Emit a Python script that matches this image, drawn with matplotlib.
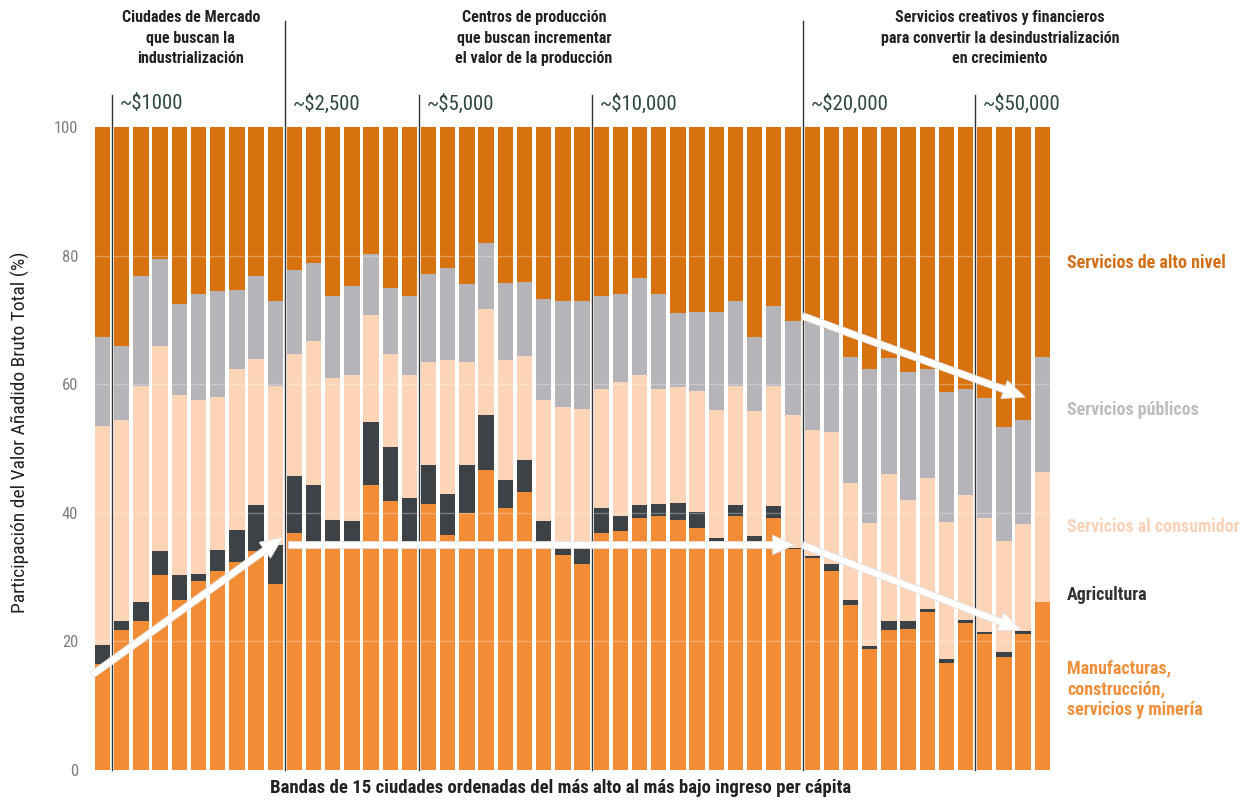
import numpy as np
import matplotlib.pyplot as plt
from matplotlib import font_manager

# fuente estrecha si existe (el original usa una tipografia condensada)
fuentes = font_manager.fontManager.ttflist
nombres = {f.name for f in fuentes}
estrecha = None
for n in ['Liberation Sans Narrow', 'Roboto Condensed', 'Open Sans Condensed', 'Arial Narrow']:
    if n in nombres:
        estrecha = n
        break
estirado = 'normal'
if estrecha is None and any(f.name == 'DejaVu Sans' and 'condensed' in str(f.stretch) for f in fuentes):
    estrecha = 'DejaVu Sans'
    estirado = 'condensed'
if estrecha is None:
    familia = ['Liberation Sans', 'DejaVu Sans']
    k = 0.84   # sin fuente estrecha: reducir tamanos
else:
    familia = [estrecha, 'DejaVu Sans']
    k = 1.0
plt.rcParams['font.family'] = familia
plt.rcParams['font.stretch'] = estirado

# 50 bandas de 15 ciudades, del ingreso mas alto al mas bajo (valores en %)
bandas = np.arange(1, 51)
manufacturas = [16.5, 21.8, 23.2, 30.4, 26.5, 29.4, 30.9, 32.4, 34.0, 29.0,
                36.9, 35.0, 35.5, 35.5, 44.4, 41.8, 35.5, 41.4, 36.6, 39.9,
                46.7, 40.8, 43.3, 35.5, 33.5, 32.0, 36.9, 37.1, 39.2, 39.5,
                38.9, 37.6, 35.6, 39.5, 35.6, 39.2, 34.3, 32.9, 31.0, 25.7,
                18.8, 21.8, 21.9, 24.5, 16.7, 22.9, 21.2, 17.6, 21.1, 26.1]
agricultura = [3.0, 1.3, 2.9, 3.6, 3.9, 1.1, 3.3, 4.9, 7.2, 6.0,
               8.9, 9.4, 3.4, 3.3, 9.7, 8.5, 6.8, 6.0, 6.3, 7.5,
               8.5, 4.3, 4.9, 3.3, 1.8, 3.0, 3.9, 2.4, 2.0, 1.9,
               2.7, 2.5, 0.5, 1.7, 0.8, 1.8, 0.3, 0.4, 1.0, 0.8,
               0.5, 1.3, 1.2, 0.5, 0.6, 0.4, 0.3, 0.7, 0.5, 0.0]
consumidor = [34.0, 31.3, 33.7, 31.9, 28.0, 27.1, 23.8, 25.1, 22.7, 24.8,
              18.9, 22.3, 22.1, 22.6, 16.7, 14.4, 19.1, 16.0, 20.8, 16.0,
              16.5, 18.6, 16.2, 18.7, 21.2, 21.2, 18.4, 20.8, 20.2, 17.9,
              17.9, 18.9, 19.9, 18.5, 19.5, 18.7, 20.6, 19.6, 20.6, 18.1,
              19.1, 23.0, 18.9, 20.4, 21.3, 19.5, 17.7, 17.3, 16.6, 20.3]
publicos = [13.8, 11.5, 17.0, 13.5, 14.0, 16.5, 16.5, 12.2, 13.0, 13.2,
            13.1, 12.2, 12.7, 13.8, 9.4, 10.3, 12.3, 13.7, 14.4, 12.2,
            10.3, 12.1, 11.5, 15.8, 16.5, 16.7, 14.5, 13.8, 15.1, 14.8,
            11.5, 12.2, 15.2, 13.2, 11.4, 12.5, 14.7, 16.8, 16.0, 19.6,
            24.0, 18.0, 19.9, 17.0, 20.2, 16.4, 18.6, 17.8, 16.2, 17.8]
alto_nivel = [32.7, 34.1, 23.2, 20.6, 27.6, 25.9, 25.5, 25.4, 23.1, 27.0,
              22.2, 21.1, 26.3, 24.8, 19.8, 25.0, 26.3, 22.9, 21.9, 24.4,
              18.0, 24.2, 24.1, 26.7, 27.0, 27.1, 26.3, 25.9, 23.5, 25.9,
              29.0, 28.8, 28.8, 27.1, 32.7, 27.8, 30.1, 30.3, 31.4, 35.8,
              37.6, 35.9, 38.1, 37.6, 41.2, 40.8, 42.2, 46.6, 45.6, 35.8]

sectores = ['Manufacturas,\nconstrucción,\nservicios y minería', 'Agricultura',
            'Servicios al consumidor', 'Servicios públicos', 'Servicios de alto nivel']
colores = ['#F28C35', '#3C4246', '#FCD5B8', '#B4B4B9', '#D8720F']
colores_texto = ['#F0903C', '#333333', '#F8D3BA', '#BDBDBD', '#D2701A']
pos_texto = [12.6, 27.2, 37.8, 56.0, 78.8]

ingresos = ['~$1000', '~$2,500', '~$5,000', '~$10,000', '~$20,000', '~$50,000']
corte_ingreso = [0.5, 9.5, 16.5, 25.5, 36.5, 45.5]

grupos = ['Ciudades de Mercado\nque buscan la\nindustrialización',
          'Centros de producción\nque buscan incrementar\nel valor de la producción',
          'Servicios creativos y financieros\npara convertir la desindustrialización\nen crecimiento']
centro_grupo = [4.6, 22.5, 46.8]

fig = plt.figure(figsize=(12.43, 8.02), dpi=100)
ax = fig.add_axes([0.0764, 0.0399, 0.7683, 0.8017])

x = np.arange(len(bandas))
series = [manufacturas, agricultura, consumidor, publicos, alto_nivel]
base = np.zeros(len(bandas))
for vals, col in zip(series, colores):
    ax.bar(x, vals, bottom=base, width=0.8, color=col, zorder=2)
    base = base + np.array(vals)

for g in [20, 40, 60, 80]:
    ax.axhline(g, color='white', alpha=0.3, lw=1, zorder=2.5)

ax.set_xlim(-0.4, 49.4)
ax.set_ylim(0, 100)
for s in ax.spines.values():
    s.set_visible(False)
ax.set_xticks([])
ax.set_yticks([0, 20, 40, 60, 80, 100])
ax.tick_params(axis='y', length=0, pad=12, labelsize=12, labelcolor='#808080')
ax.set_ylabel('Participación del Valor Añadido Bruto Total (%)', fontsize=14 * k,
              color='#222222')
ax.yaxis.set_label_coords(-0.068, 0.526)
ax.set_xlabel('Bandas de 15 ciudades ordenadas del más alto al más bajo ingreso per cápita',
              fontsize=13.5 * k, weight='bold', color='#222222')
ax.xaxis.set_label_coords(0.488, -0.014)

# lineas de ingreso y de grupo
for lab, xc in zip(ingresos, corte_ingreso):
    alto = 116.5 if xc in (9.5, 36.5) else 105
    ax.plot([xc, xc], [0, alto], color='#333333', lw=1, zorder=3, clip_on=False)
    ax.text(xc + 0.4, 103.6, lab, fontsize=15 * k, color='#2E4A3C', va='center',
            ha='left')

tam_grupo = 11.5 if k == 1.0 else 10.5
for txt, xc in zip(grupos, centro_grupo):
    ax.text(xc, 113.8, txt, ha='center', va='center', fontsize=tam_grupo,
            weight='bold', color='#222222', linespacing=1.45)

for lab, col, y in zip(sectores, colores_texto, pos_texto):
    ax.text(50.3, y, lab, color=col, fontsize=13 * k, weight='bold',
            va='center', ha='left', linespacing=1.2)

# flechas
flechas = [((-0.55, 14.8), (9.4, 36.2)),
           ((9.7, 35.0), (36.1, 35.0)),
           ((36.5, 35.0), (47.9, 21.8)),
           ((36.5, 70.6), (48.1, 58.0))]
for ini, fin in flechas:
    ax.annotate('', xy=fin, xytext=ini, annotation_clip=False,
                arrowprops=dict(arrowstyle='simple,head_length=1.6,head_width=1.4,tail_width=0.5',
                                mutation_scale=10, fc='white', ec='#e0e0e0', lw=0.6,
                                shrinkA=0, shrinkB=0), zorder=5)

fig.savefig('out.png', dpi=100)
